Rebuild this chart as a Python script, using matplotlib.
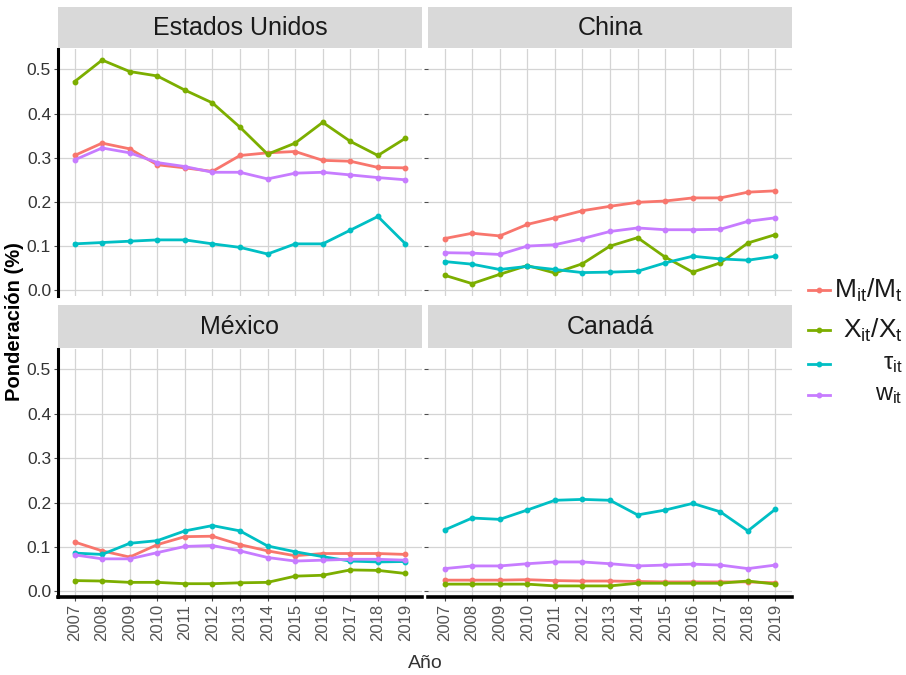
import matplotlib
matplotlib.use("Agg")
import matplotlib.pyplot as plt
from matplotlib import font_manager
from matplotlib.lines import Line2D

# Pick a narrow sans face if the system has one
installed = {f.name for f in font_manager.fontManager.ttflist}
narrow = "Liberation Sans Narrow" if "Liberation Sans Narrow" in installed else "Liberation Sans"
plt.rcParams["font.family"] = [narrow, "DejaVu Sans"]
plt.rcParams["mathtext.fontset"] = "custom"
plt.rcParams["mathtext.rm"] = narrow
plt.rcParams["mathtext.it"] = narrow

years = list(range(2007, 2020))
countries = ["Estados Unidos", "China", "México", "Canadá"]
series = ["M", "X", "tau", "w"]
series_labels = [r"$\mathrm{M_{it}/M_t}$", r"$\mathrm{X_{it}/X_t}$", r"$\tau_{it}$", r"$\mathrm{w_{it}}$"]
colors = ["#F8766D", "#7CAE00", "#00BFC4", "#C77CFF"]

# Weights by country and indicator
us_M = [0.305, 0.333, 0.320, 0.284, 0.277, 0.269, 0.305, 0.311, 0.314, 0.294, 0.292, 0.278, 0.277]
us_X = [0.472, 0.521, 0.495, 0.485, 0.453, 0.424, 0.369, 0.308, 0.333, 0.380, 0.337, 0.305, 0.344]
us_tau = [0.105, 0.108, 0.111, 0.114, 0.114, 0.105, 0.097, 0.082, 0.105, 0.105, 0.136, 0.167, 0.105]
us_w = [0.295, 0.322, 0.311, 0.289, 0.280, 0.267, 0.267, 0.252, 0.265, 0.267, 0.261, 0.255, 0.250]

cn_M = [0.117, 0.129, 0.123, 0.149, 0.164, 0.180, 0.190, 0.199, 0.202, 0.209, 0.209, 0.222, 0.225]
cn_X = [0.034, 0.015, 0.036, 0.056, 0.039, 0.060, 0.100, 0.119, 0.075, 0.041, 0.062, 0.107, 0.126]
cn_tau = [0.065, 0.059, 0.047, 0.054, 0.047, 0.040, 0.041, 0.043, 0.062, 0.077, 0.071, 0.068, 0.077]
cn_w = [0.085, 0.084, 0.081, 0.100, 0.103, 0.117, 0.133, 0.141, 0.137, 0.137, 0.138, 0.156, 0.164]

mx_M = [0.111, 0.091, 0.077, 0.105, 0.123, 0.124, 0.105, 0.091, 0.080, 0.085, 0.085, 0.085, 0.083]
mx_X = [0.024, 0.023, 0.020, 0.020, 0.017, 0.017, 0.019, 0.020, 0.034, 0.036, 0.048, 0.047, 0.040]
mx_tau = [0.086, 0.083, 0.108, 0.114, 0.136, 0.148, 0.136, 0.102, 0.089, 0.078, 0.068, 0.066, 0.067]
mx_w = [0.082, 0.073, 0.073, 0.087, 0.101, 0.103, 0.091, 0.076, 0.068, 0.070, 0.072, 0.072, 0.070]

ca_M = [0.025, 0.025, 0.025, 0.026, 0.024, 0.023, 0.023, 0.022, 0.021, 0.021, 0.021, 0.021, 0.019]
ca_X = [0.016, 0.016, 0.016, 0.016, 0.012, 0.012, 0.012, 0.018, 0.018, 0.018, 0.018, 0.023, 0.016]
ca_tau = [0.138, 0.165, 0.162, 0.183, 0.205, 0.207, 0.205, 0.172, 0.183, 0.198, 0.179, 0.136, 0.185]
ca_w = [0.051, 0.057, 0.057, 0.062, 0.066, 0.066, 0.062, 0.057, 0.059, 0.061, 0.059, 0.051, 0.059]

data = [
    [us_M, us_X, us_tau, us_w],
    [cn_M, cn_X, cn_tau, cn_w],
    [mx_M, mx_X, mx_tau, mx_w],
    [ca_M, ca_X, ca_tau, ca_w],
]

W, H = 906, 675
fig = plt.figure(figsize=(W / 100, H / 100), dpi=100)

def box(x0, y0, x1, y1):
    # pixel box (top-left origin) -> figure fraction rect
    return [x0 / W, 1 - y1 / H, (x1 - x0) / W, (y1 - y0) / H]

panel_x = [(58, 422), (428, 792)]
panel_y = [(49, 296), (349, 597)]
strip_y = [(7, 48), (305, 348)]

grid_col = "#d4d4d4"
tick_col = "#4d4d4d"

for k, name in enumerate(countries):
    r, c = divmod(k, 2)
    x0, x1 = panel_x[c]
    y0, y1 = panel_y[r]
    ax = fig.add_axes(box(x0, y0, x1, y1))
    for vals, col in zip(data[k], colors):
        ax.plot(years, vals, color=col, lw=2.0, marker="o", ms=3.2, zorder=3)
    ax.set_xlim(2006.4, 2019.6)
    ax.set_ylim(-0.013, 0.546)
    ax.set_xticks(years)
    ax.set_yticks([0.0, 0.1, 0.2, 0.3, 0.4, 0.5])
    ax.grid(True, color=grid_col, lw=0.9)
    ax.set_axisbelow(True)
    for s in ax.spines.values():
        s.set_visible(False)
    ax.tick_params(length=3, color=tick_col, width=0.8, pad=2)
    if c == 0:
        ax.spines["left"].set_visible(True)
        ax.spines["left"].set_color("black")
        ax.spines["left"].set_linewidth(2.2)
        ax.set_yticklabels(["0.0", "0.1", "0.2", "0.3", "0.4", "0.5"], fontsize=12.5, color="#333333")
    else:
        ax.tick_params(axis="y", labelleft=False)
    if r == 1:
        ax.spines["bottom"].set_visible(True)
        ax.spines["bottom"].set_color("black")
        ax.spines["bottom"].set_linewidth(2.6)
        ax.set_xticklabels([str(y) for y in years], rotation=90, fontsize=12,
                           color="#555555", family="Liberation Sans")
    else:
        ax.tick_params(axis="x", bottom=False, labelbottom=False)

    # facet strip
    sy0, sy1 = strip_y[r]
    sax = fig.add_axes(box(x0, sy0, x1, sy1))
    sax.set_facecolor("#d9d9d9")
    sax.set_xticks([])
    sax.set_yticks([])
    for s in sax.spines.values():
        s.set_visible(False)
    sax.text(0.5, 0.48, name, ha="center", va="center", fontsize=18, color="#1a1a1a",
             transform=sax.transAxes)

fig.text(15 / W, 1 - 322 / H, "Ponderación (%)", rotation=90, ha="center", va="center",
         fontsize=14.5, fontweight="bold", family="Liberation Sans")
fig.text(425 / W, 1 - 663 / H, "Año", ha="center", va="center", fontsize=14, color="#333333")

# legend keys drawn at right
leg_y = [290, 330, 364, 395]
leg_fs = [19, 19, 17, 17]
for lab, col, yy, fs in zip(series_labels, colors, leg_y, leg_fs):
    fy = 1 - yy / H
    fig.add_artist(Line2D([808 / W, 830 / W], [fy, fy], color=col, lw=2.0,
                          transform=fig.transFigure))
    fig.add_artist(Line2D([819 / W], [fy], color=col, marker="o", ms=3.2,
                          transform=fig.transFigure))
    fig.text(903 / W, fy, lab, ha="right", va="center", fontsize=fs, color="#1a1a1a")

fig.savefig("out.png", dpi=100)
